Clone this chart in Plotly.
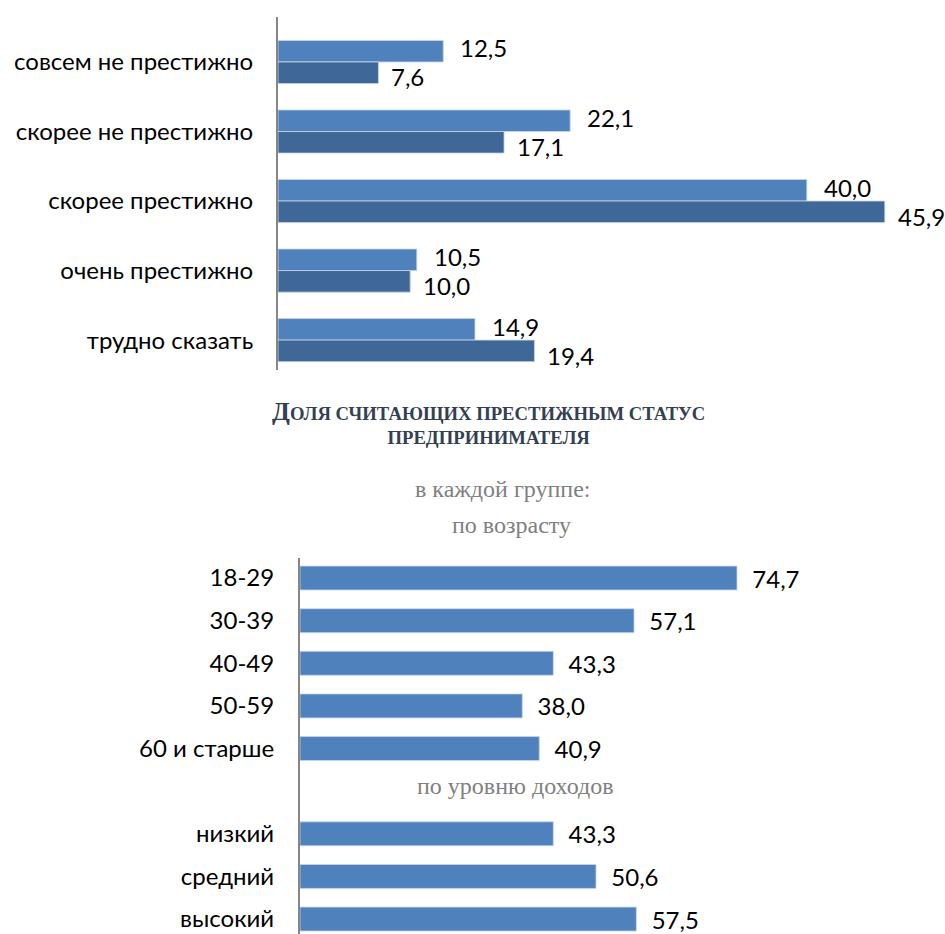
import plotly.graph_objects as go

# ---- data ----
top_categories = ["совсем не престижно", "скорее не престижно", "скорее престижно",
                  "очень престижно", "трудно сказать"]
top_series_a = [12.5, 22.1, 40.0, 10.5, 14.9]
top_series_b = [7.6, 17.1, 45.9, 10.0, 19.4]

age_categories = ["18-29", "30-39", "40-49", "50-59", "60 и старше"]
age_values = [74.7, 57.1, 43.3, 38.0, 40.9]
income_categories = ["низкий", "средний", "высокий"]
income_values = [43.3, 50.6, 57.5]

title_text = "<span style='font-size:26px'>Д</span>ОЛЯ СЧИТАЮЩИХ ПРЕСТИЖНЫМ СТАТУС<br>ПРЕДПРИНИМАТЕЛЯ"
subtitle_1 = "в каждой группе:"
subtitle_2 = "по возрасту"
subtitle_3 = "по уровню доходов"

SANS = "Lato, Carlito, Calibri, sans-serif"
SERIF = "Liberation Serif, Times New Roman, serif"
LIGHT = "#4F81BD"
DARK = "#3F6797"
W, H = 945, 934
FS = 24

def fmt(v):
    return f"{v:.1f}".replace(".", ",")

fig = go.Figure()

bar_line = dict(width=0.8, color="#c9d7ea")

fig.add_trace(go.Bar(
    y=top_categories, x=top_series_a, orientation="h",
    width=0.31, offset=-0.31,
    marker=dict(color=LIGHT, line=bar_line),
    xaxis="x", yaxis="y", showlegend=False, hoverinfo="skip"))
fig.add_trace(go.Bar(
    y=top_categories, x=top_series_b, orientation="h",
    width=0.31, offset=0.0,
    marker=dict(color=DARK, line=bar_line),
    xaxis="x", yaxis="y", showlegend=False, hoverinfo="skip"))

# value labels of the top chart (placed at each bar's end)
for cat, va, vb in zip(top_categories, top_series_a, top_series_b):
    fig.add_annotation(x=va, y=cat, xref="x", yref="y", text=fmt(va), showarrow=False,
                       xanchor="left", yanchor="middle", xshift=15, yshift=14,
                       font=dict(family=SANS, size=FS, color="black"))
    fig.add_annotation(x=vb, y=cat, xref="x", yref="y", text=fmt(vb), showarrow=False,
                       xanchor="left", yanchor="middle", xshift=11, yshift=-15,
                       font=dict(family=SANS, size=FS, color="black"))

bottom_categories = age_categories + [" "] + income_categories
fig.add_trace(go.Bar(
    y=age_categories + income_categories, x=age_values + income_values, orientation="h",
    width=0.562,
    marker=dict(color=LIGHT, line=bar_line),
    text=["\u00a0\u00a0" + fmt(v) for v in age_values + income_values], textposition="outside",
    constraintext="none", cliponaxis=False,
    textfont=dict(family=SANS, size=FS, color="black"),
    xaxis="x2", yaxis="y2", showlegend=False, hoverinfo="skip"))

top_px = 13.22   # px per unit
bot_px = 5.85

fig.update_layout(
    width=W, height=H, margin=dict(l=0, r=0, t=0, b=0),
    paper_bgcolor="white", plot_bgcolor="white",
    barmode="group",
    xaxis=dict(domain=[278 / W, 1], range=[0, (W - 278) / top_px], visible=False, fixedrange=True),
    yaxis=dict(domain=[1 - 370 / H, 1 - 17 / H], type="category",
               categoryorder="array", categoryarray=top_categories,
               range=[4.43, -0.647], showline=True, linecolor="#868686", linewidth=2,
               ticks="", showgrid=False, zeroline=False, ticklabelstandoff=18,
               tickfont=dict(family=SANS, size=FS, color="black"), anchor="x", fixedrange=True),
    xaxis2=dict(domain=[300 / W, 1], range=[0, (W - 300) / bot_px], visible=False, fixedrange=True,
                anchor="y2"),
    yaxis2=dict(domain=[0, 1 - 558 / H], type="category",
                categoryorder="array", categoryarray=bottom_categories,
                range=[8.35, -0.47], showline=True, linecolor="#868686", linewidth=2,
                ticks="", showgrid=False, zeroline=False, ticklabelstandoff=19,
                tickfont=dict(family=SANS, size=FS, color="black"), anchor="x2", fixedrange=True),
)

fig.add_annotation(text=title_text, xref="paper", yref="paper",
                   x=488 / W, y=1 - 422 / H, xanchor="center", yanchor="middle",
                   showarrow=False, align="center",
                   font=dict(family=SERIF, size=18.7, color="#343f52", weight="bold"))
fig.add_annotation(text=subtitle_1, xref="paper", yref="paper",
                   x=502 / W, y=1 - 489 / H, xanchor="center", yanchor="middle",
                   showarrow=False, font=dict(family=SERIF, size=24, color="#808080"))
fig.add_annotation(text=subtitle_2, xref="paper", yref="paper",
                   x=511 / W, y=1 - 525 / H, xanchor="center", yanchor="middle",
                   showarrow=False, font=dict(family=SERIF, size=24, color="#808080"))
fig.add_annotation(text=subtitle_3, xref="paper", yref="paper",
                   x=515 / W, y=1 - 786 / H, xanchor="center", yanchor="middle",
                   showarrow=False, font=dict(family=SERIF, size=24, color="#808080"))

fig.write_html("out.html", config={"displayModeBar": False},
               post_script="document.body.style.margin='0';")
